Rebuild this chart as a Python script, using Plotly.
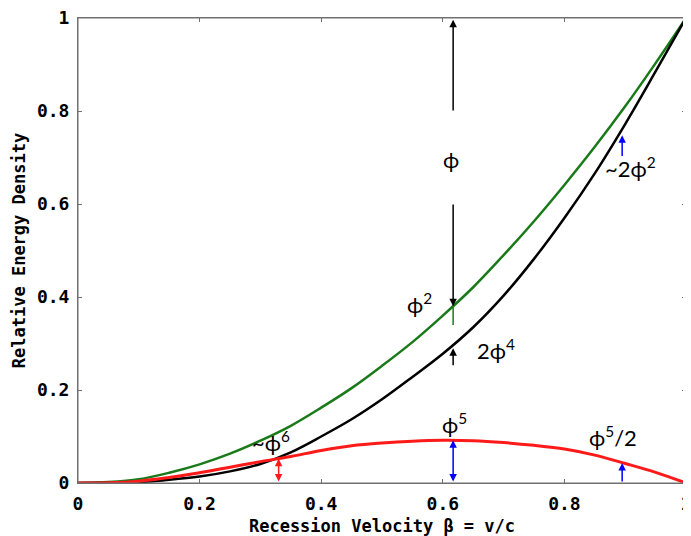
import plotly.graph_objects as go

beta = [0, 0.05, 0.1, 0.15, 0.2, 0.25, 0.3, 0.35, 0.4, 0.45, 0.5,
        0.55, 0.6, 0.65, 0.7, 0.75, 0.8, 0.85, 0.9, 0.95, 1.0]
green_vals = [0, 0.002, 0.008, 0.022, 0.040, 0.063, 0.091, 0.123, 0.162, 0.204, 0.252,
              0.303, 0.360, 0.421, 0.490, 0.563, 0.641, 0.723, 0.810, 0.903, 1.0]
black_vals = [0, 0.0002, 0.002, 0.007, 0.014, 0.025, 0.041, 0.066, 0.100, 0.137, 0.180,
              0.228, 0.278, 0.335, 0.403, 0.482, 0.570, 0.666, 0.772, 0.885, 1.0]
red_vals = [0, 0.0005, 0.004, 0.012, 0.022, 0.034, 0.046, 0.057, 0.070, 0.080, 0.086,
            0.090, 0.092, 0.091, 0.087, 0.081, 0.073, 0.060, 0.042, 0.023, 0.0]

tick_vals = [0, 0.2, 0.4, 0.6, 0.8, 1]
tick_text = ["0", "0.2", "0.4", "0.6", "0.8", "1"]

GREEN = "#1a7a1a"
RED = "#ff1a1a"

fig = go.Figure()
fig.add_trace(go.Scatter(x=beta, y=green_vals, mode="lines", line=dict(color=GREEN, width=2.5, shape="spline")))
fig.add_trace(go.Scatter(x=beta, y=black_vals, mode="lines", line=dict(color="black", width=2.5, shape="spline")))
fig.add_trace(go.Scatter(x=beta, y=red_vals, mode="lines", line=dict(color=RED, width=3, shape="spline")))

# green short segment below arrow tip
fig.add_trace(go.Scatter(x=[0.617, 0.617], y=[0.378, 0.34], mode="lines", line=dict(color=GREEN, width=1.5)))

def arrow(x, y0, y1, color, both=False):
    fig.add_annotation(x=x, y=y1, ax=x, ay=y0, xref="x", yref="y", axref="x", ayref="y",
                       showarrow=True, arrowhead=2, arrowsize=1, arrowwidth=1.5, arrowcolor=color,
                       startarrowhead=2, startarrowsize=1,
                       arrowside="end+start" if both else "end", text="")

arrow(0.617, 0.798, 0.996, "black")
arrow(0.617, 0.602, 0.38, "black")
arrow(0.617, 0.25, 0.29, "black")
arrow(0.33, 0.0, 0.052, RED, both=True)
arrow(0.617, 0.0, 0.092, "blue", both=True)
arrow(0.895, 0.0, 0.043, "blue")
arrow(0.895, 0.70, 0.748, "blue")

labels = [
    (0.613, 0.695, "ϕ"),
    (0.562, 0.385, "ϕ<sup>2</sup>"),
    (0.688, 0.288, "2ϕ<sup>4</sup>"),
    (0.62, 0.127, "ϕ<sup>5</sup>"),
    (0.317, 0.090, "~ϕ<sup>6</sup>"),
    (0.880, 0.101, "ϕ<sup>5</sup>/2"),
    (0.908, 0.679, "~2ϕ<sup>2</sup>"),
]
for lx, ly, t in labels:
    fig.add_annotation(x=lx, y=ly, xref="x", yref="y", text=t, showarrow=False,
                       font=dict(family="Lato, DejaVu Sans", size=22, color="black"))

axis_font = dict(family="DejaVu Sans Mono", size=18, color="black", weight="bold")
title_font = dict(family="DejaVu Sans Mono", size=17, color="black", weight="bold")
common = dict(range=[0, 1], tickvals=tick_vals, ticktext=tick_text, showline=True,
              linecolor="#707070", linewidth=1, mirror="ticks", ticks="inside", ticklen=4,
              tickcolor="#707070", showgrid=False, zeroline=False,
              tickfont=axis_font, ticklabeloverflow="allow", ticklabelstandoff=4)
fig.update_xaxes(**common,
                 title=dict(text="Recession Velocity β = v/c", font=title_font, standoff=14))
fig.update_yaxes(**common,
                 title=dict(text="Relative Energy Density", font=title_font, standoff=6))
# plot frame
fig.add_shape(type="rect", xref="paper", yref="paper", x0=0, x1=1, y0=0, y1=1,
              line=dict(color="#707070", width=1), layer="above")
# page body has an 8px default margin, so size the figure to fit the window
fig.update_layout(width=683, height=528, margin=dict(l=70, r=5, t=10, b=53, autoexpand=False),
                  plot_bgcolor="white", paper_bgcolor="white", showlegend=False,
                  font=dict(family="DejaVu Sans Mono"))
fig.write_html("out.html")
